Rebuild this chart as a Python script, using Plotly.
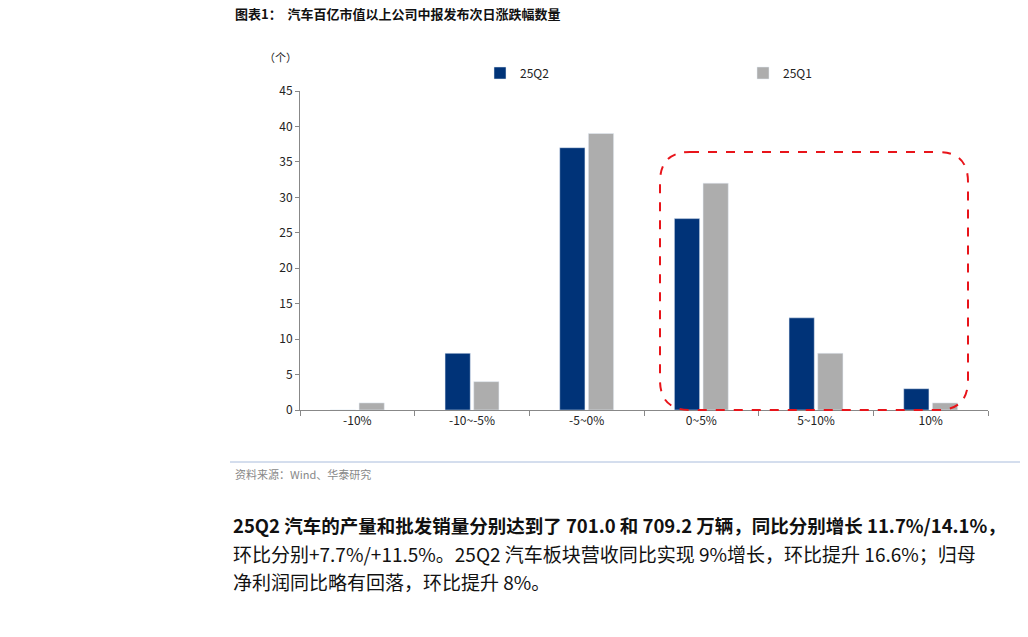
import plotly.graph_objects as go

categories = ["-10%", "-10~-5%", "-5~0%", "0~5%", "5~10%", "10%"]
q2_values = [0, 8, 37, 27, 13, 3]
q1_values = [1, 4, 39, 32, 8, 1]
y_ticks = [0, 5, 10, 15, 20, 25, 30, 35, 40, 45]

fig = go.Figure()
fig.add_bar(x=categories, y=q2_values, name="25Q2", marker_color="#003378")
fig.add_bar(x=categories, y=q1_values, name="25Q1", marker_color="#ADADAD")

OFF = 8
W, H = 1028 - OFF, 637 - OFF
L, R, T, B = 300, 988, 91, 410
pw, ph = R - L, B - T
def px(x): return (x - L) / pw
def py(y): return (B - y) / ph

x0, x1, yb, yt = px(660), px(968), py(410), py(152)
rx, ry = 30 / pw, 30 / ph
path = (f"M {x0+rx},{yt} L {x1-rx},{yt} Q {x1},{yt} {x1},{yt-ry} "
        f"L {x1},{yb+ry} Q {x1},{yb} {x1-rx},{yb} L {x0+rx},{yb} "
        f"Q {x0},{yb} {x0},{yb+ry} L {x0},{yt-ry} Q {x0},{yt} {x0+rx},{yt} Z")

font = "Noto Sans CJK SC"
fig.update_layout(
    width=W, height=H,
    margin=dict(l=L - OFF, r=W - (R - OFF), t=T - OFF, b=H - (B - OFF)),
    plot_bgcolor="white", paper_bgcolor="white",
    font=dict(family=font, size=12, color="#222"),
    barmode="group", bargap=0.5, bargroupgap=0.12,
    showlegend=True,
    legend=dict(orientation="h", x=px(480), y=py(73), xanchor="left", yanchor="middle",
                entrywidth=218, entrywidthmode="pixels", font=dict(size=12),
                itemwidth=30, bgcolor="rgba(0,0,0,0)"),
    xaxis=dict(showline=True, linecolor="#888", ticks="outside", tickcolor="#888",
               ticklen=5, tickson="boundaries", showgrid=False, tickfont=dict(size=12)),
    yaxis=dict(range=[0, 45], tickvals=y_ticks, showline=True, linecolor="#888",
               ticks="outside", tickcolor="#888", ticklen=4, showgrid=False,
               tickfont=dict(size=12)),
    shapes=[
        dict(type="path", path=path, xref="paper", yref="paper",
             line=dict(color="#E8141A", width=2, dash="dash")),
        dict(type="line", xref="paper", yref="paper", x0=px(230), x1=px(1022),
             y0=py(462), y1=py(462), line=dict(color="#A9BCDC", width=1)),
    ],
    annotations=[
        dict(text="<b>图表1：  汽车百亿市值以上公司中报发布次日涨跌幅数量</b>", xref="paper", yref="paper",
             x=px(233), y=py(14), xanchor="left", yanchor="middle", showarrow=False,
             font=dict(size=13, color="#111")),
        dict(text="（个）", xref="paper", yref="paper", x=px(262), y=py(57),
             xanchor="left", yanchor="middle", showarrow=False, font=dict(size=11)),
        dict(text="资料来源：Wind、华泰研究", xref="paper", yref="paper", x=px(233), y=py(474),
             xanchor="left", yanchor="middle", showarrow=False, font=dict(size=11, color="#888")),
        dict(text="<b>25Q2 汽车的产量和批发销量分别达到了 701.0 和 709.2 万辆，同比分别增长 11.7%/14.1%，</b>",
             xref="paper", yref="paper", x=px(231), y=py(525), xanchor="left", yanchor="middle",
             showarrow=False, font=dict(size=18.5, color="#111")),
        dict(text="环比分别+7.7%/+11.5%。25Q2 汽车板块营收同比实现 9%增长，环比提升 16.6%；归母",
             xref="paper", yref="paper", x=px(231), y=py(553), xanchor="left", yanchor="middle",
             showarrow=False, font=dict(size=19, color="#111")),
        dict(text="净利润同比略有回落，环比提升 8%。",
             xref="paper", yref="paper", x=px(231), y=py(581), xanchor="left", yanchor="middle",
             showarrow=False, font=dict(size=19, color="#111")),
    ],
)
fig.write_html("out.html")
